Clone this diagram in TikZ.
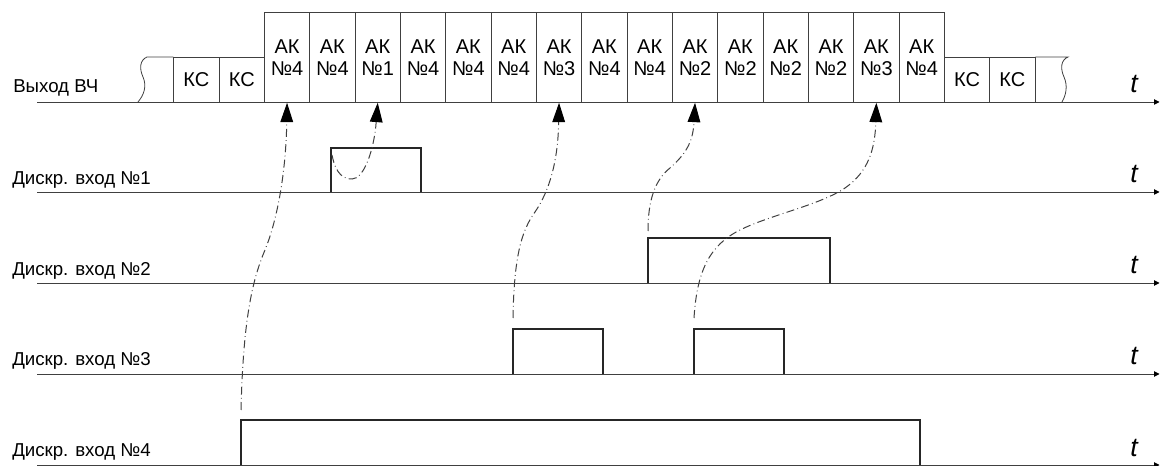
\documentclass[tikz,border=0pt]{standalone}
\usepackage{fontspec}
\setmainfont{Liberation Sans}
\usetikzlibrary{arrows.meta}
\tikzset{
    slot/.style={draw=black!75, line width=0.6pt, anchor=north west, inner sep=0pt,
        minimum width=34pt, align=center, font=\fontsize{15}{16.3}\selectfont},
    akslot/.style={slot, minimum height=67.5pt},
    ksslot/.style={slot, minimum height=33.75pt},
    axis/.style={draw=black!75, line width=0.65pt, -{Triangle[width=4pt,length=4pt,black]}},
    pulse/.style={draw=black!85, line width=1pt},
    link/.style={draw=black!75, line width=0.75pt,
        dash pattern=on 6pt off 2.5pt on 0.6pt off 2.5pt,
        -{Triangle[width=9.5pt,length=14.5pt,black]}},
    sig/.style={anchor=base west, inner sep=0pt, font=\fontsize{14}{16}\selectfont},
    tlab/.style={anchor=base west, inner sep=0pt, font=\fontsize{20}{22}\selectfont\itshape},
}
\begin{document}
\begin{tikzpicture}[x=0.75pt,y=-0.75pt]
    \useasboundingbox (0,0) rectangle (1160,466);
    % time axes
    \foreach \y [count=\r] in {102,192,283,374,465} {
        \draw[axis] (37,\y) -- (1159.5,\y);
        \node[tlab] (t\r) at (1130,\y-9) {t};
    }
    % signal names
    \node[sig] (out) at (13,93) {Выход ВЧ};
    \foreach \n/\y in {1/185,2/276,3/366,4/456}
        \node[sig] (in\n) at (12,\y) {Дискр. вход №\n};

    % output frame
    \node[ksslot] (ksL1) at (173.3,57) {КС};
    \node[ksslot] (ksL2) at (218.7,57) {КС};
    \foreach \n [count=\i from 0] in {4,4,1,4,4,4,3,4,4,2,2,2,2,3,4}
        \node[akslot] (ak\i) at ({264+45.33*\i},12) {АК\\№\n};
    \node[ksslot] (ksR1) at (944,57) {КС};
    \node[ksslot] (ksR2) at (989.3,57) {КС};
    \draw[black!75, line width=0.6pt] (138,102) .. controls (144,95) and (147,86) .. (143,77)
        .. controls (139,68) and (140,60) .. (147,57) -- (ksL1.north west);
    \draw[black!75, line width=0.6pt] (ksR2.north east) -- (1068,57)
        .. controls (1061,60) and (1060,68) .. (1064,77)
        .. controls (1068,86) and (1066,95) .. (1062,102);

    % inputs
    \draw[pulse] (331,192) |- (421,148) -- (421,192);
    \draw[pulse] (648,283) |- (830,238) -- (830,283);
    \draw[pulse] (513,374) |- (603,329) -- (603,374);
    \draw[pulse] (694,374) |- (784,329) -- (784,374);
    \draw[pulse] (241,465) |- (920,420) -- (920,465);

    \coordinate (s4) at (241,410);
    \coordinate (s1) at (332,155);
    \coordinate (s3a) at (513,318);
    \coordinate (s2) at (648,231);
    \coordinate (s3b) at (694,318);

    % which slot each input takes
    \draw[link] (s4) .. controls (243,330) and (250,285) .. (265,250)
        .. controls (278,218) and (286,170) .. (ak0.south);
    \draw[link] (s1) .. controls (336,175) and (344,179) .. (352,179)
        .. controls (364,179) and (374,150) .. (ak2.south);
    \draw[link] (s3a) .. controls (514,255) and (522,230) .. (535,212)
        .. controls (550,190) and (558,160) .. (ak6.south);
    \draw[link] (s2) .. controls (648,200) and (655,180) .. (670,168)
        .. controls (688,152) and (693,140) .. (ak9.south);
    \draw[link] (s3b) .. controls (697,270) and (710,245) .. (740,230)
        .. controls (770,215) and (820,205) .. (845,188)
        .. controls (868,172) and (875,150) .. (ak13.south);
\end{tikzpicture}
\end{document}
